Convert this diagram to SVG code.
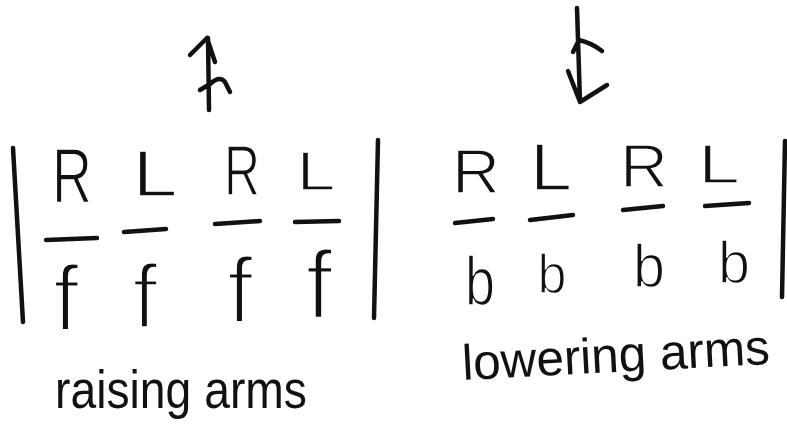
<svg xmlns="http://www.w3.org/2000/svg" width="787" height="439" viewBox="0 0 787 439">
<style>
.ink{fill:none;stroke:#111;stroke-width:4.5;stroke-linecap:round;stroke-linejoin:round}
.t{font-family:"Liberation Sans",Arial,sans-serif;fill:#111;text-anchor:middle;stroke:#fff;stroke-width:1.5}
.f{stroke-width:3}
.lab{font-family:"Liberation Sans",Arial,sans-serif;fill:#111}
</style>
<rect width="787" height="439" fill="#fff"/>
<g id="connectors">
<path id="arrow-up" class="ink" d="M209,110 L208,38 M190,55 L207,38 L215,62 M200,90 L210,84 Q220,75 225,82 L230,92"/>
<path id="arrow-double" class="ink" d="M577,8 L580,102 M573,52 L579,40 Q592,43 602,51 M568,71 L580,102 L607,85"/>
</g>
<g id="raising">
<path class="ink" d="M13,148 L23,322 M378,140 L374,318"/>
<g id="r-col1"><text class="t" x="72" y="202" font-size="78" textLength="40" lengthAdjust="spacingAndGlyphs">R</text><path class="ink" d="M46,240 L97,238"/><text class="t f" x="66" y="330" font-size="92">f</text></g>
<g id="r-col2"><text class="t" x="155" y="196" font-size="64" textLength="45" lengthAdjust="spacingAndGlyphs">L</text><path class="ink" d="M124,232 L166,229"/><text class="t f" x="145" y="328" font-size="90">f</text></g>
<g id="r-col3"><text class="t" x="242" y="195" font-size="70" textLength="36" lengthAdjust="spacingAndGlyphs">R</text><path class="ink" d="M215,224 L260,221"/><text class="t f" x="240" y="322" font-size="92">f</text></g>
<g id="r-col4"><text class="t" x="316" y="190" font-size="56" textLength="39" lengthAdjust="spacingAndGlyphs">L</text><path class="ink" d="M295,222 L339,221"/><text class="t f" x="319" y="318" font-size="96">f</text></g>
<text class="lab" x="55" y="408" font-size="54" textLength="252" lengthAdjust="spacingAndGlyphs">raising arms</text>
</g>
<g id="lowering">
<path class="ink" d="M785,141 L782,297"/>
<g id="l-col1"><text class="t" x="476" y="193" font-size="63" textLength="48" lengthAdjust="spacingAndGlyphs">R</text><path class="ink" d="M455,223 L493,219"/><text class="t" x="480" y="305" font-size="68" textLength="30" lengthAdjust="spacingAndGlyphs">b</text></g>
<g id="l-col2"><text class="t" x="551" y="190" font-size="66" textLength="42" lengthAdjust="spacingAndGlyphs">L</text><path class="ink" d="M530,220 L573,215"/><text class="t" x="552" y="293" font-size="56" textLength="29" lengthAdjust="spacingAndGlyphs">b</text></g>
<g id="l-col3"><text class="t" x="644" y="187" font-size="61" textLength="48" lengthAdjust="spacingAndGlyphs">R</text><path class="ink" d="M623,210 L663,206"/><text class="t" x="649" y="287" font-size="62" textLength="32" lengthAdjust="spacingAndGlyphs">b</text></g>
<g id="l-col4"><text class="t" x="719" y="183" font-size="56" textLength="42" lengthAdjust="spacingAndGlyphs">L</text><path class="ink" d="M705,206 L749,203"/><text class="t" x="734" y="283" font-size="60" textLength="32" lengthAdjust="spacingAndGlyphs">b</text></g>
<text class="lab" x="463" y="380" font-size="50" textLength="308" lengthAdjust="spacingAndGlyphs" transform="rotate(-3 463 380)">lowering arms</text>
</g>
</svg>
